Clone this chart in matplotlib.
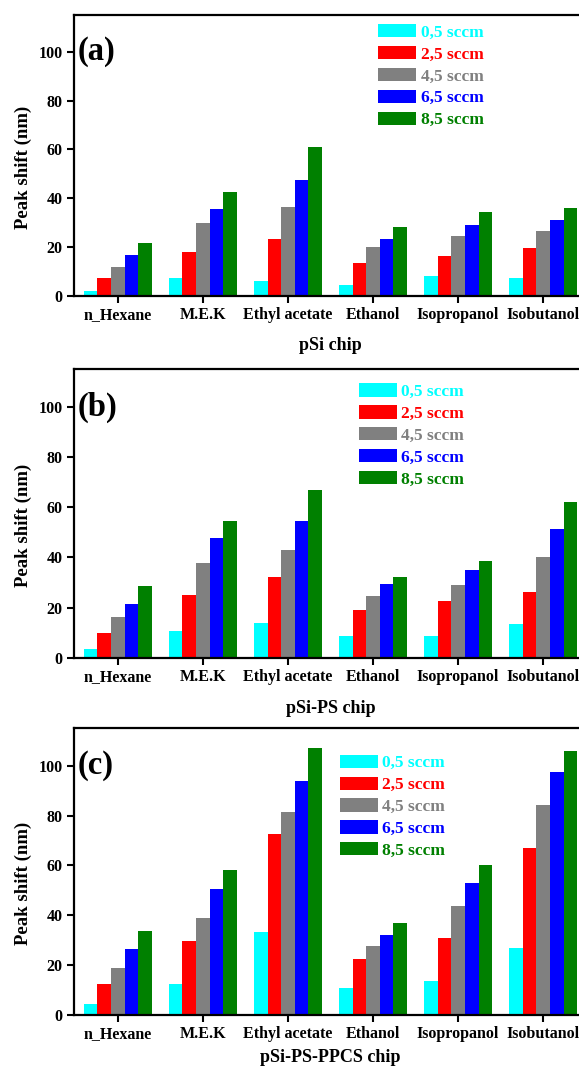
"""Peak shift of the porous silicon chips for several vapours and flow rates."""

import matplotlib

matplotlib.use("Agg")
import matplotlib.pyplot as plt
import numpy as np

solvents = ["n_Hexane", "M.E.K", "Ethyl acetate", "Ethanol", "Isopropanol", "Isobutanol"]
flows = ["0,5 sccm", "2,5 sccm", "4,5 sccm", "6,5 sccm", "8,5 sccm"]
colors = ["#00FFFF", "#FF0000", "#808080", "#0000FF", "#008000"]

# peak shift (nm), one row per flow rate, one column per solvent
shift_psi = [
    [2.0, 7.5, 6.1, 4.6, 8.3, 7.5],
    [7.5, 18.1, 23.5, 13.6, 16.4, 19.8],
    [11.9, 29.7, 36.4, 20.1, 24.7, 26.5],
    [16.7, 35.5, 47.5, 23.5, 29.1, 31.0],
    [21.8, 42.7, 60.9, 28.4, 34.5, 36.0],
]
shift_psi_ps = [
    [3.3, 10.8, 13.9, 8.8, 8.8, 13.4],
    [10.0, 25.2, 32.0, 19.0, 22.6, 26.3],
    [16.1, 37.8, 42.8, 24.8, 29.0, 40.0],
    [21.5, 47.7, 54.4, 29.2, 34.8, 51.5],
    [28.7, 54.7, 66.7, 32.3, 38.4, 61.9],
]
shift_psi_ps_ppcs = [
    [4.4, 12.6, 33.2, 11.0, 13.7, 27.0],
    [12.6, 29.5, 72.6, 22.6, 30.8, 67.1],
    [19.0, 38.8, 81.5, 27.8, 43.8, 84.3],
    [26.4, 50.5, 93.7, 32.0, 53.0, 97.5],
    [33.5, 58.1, 107.0, 37.1, 60.1, 105.9],
]

panels = [
    ("(a)", "pSi chip", shift_psi),
    ("(b)", "pSi-PS chip", shift_psi_ps),
    ("(c)", "pSi-PS-PPCS chip", shift_psi_ps_ppcs),
]

plt.rcParams["font.family"] = ["Liberation Serif", "DejaVu Serif"]
plt.rcParams["font.weight"] = "bold"
plt.rcParams["axes.labelweight"] = "bold"

W, H = 579, 1070
fig = plt.figure(figsize=(W / 100, H / 100), dpi=100)

# (left px, top px, bottom px) of each plot frame, legend anchor, xlabel pad
frames = [(73.5, 15, 296), (73.5, 369.3, 657.7), (73.5, 728.3, 1015)]
legend_anchor = [(0.593, 0.968), (0.555, 0.951), (0.518, 0.908)]
xlabel_pad = [10, 11, 5]
frame_w = 514

x = np.arange(len(solvents))
bar_w = 0.16

for i, (tag, chip, data) in enumerate(panels):
    left, top, bottom = frames[i]
    ax = fig.add_axes([left / W, 1 - bottom / H, frame_w / W, (bottom - top) / H])

    for k, (flow, col) in enumerate(zip(flows, colors)):
        ax.bar(x + (k - 2) * bar_w, data[k], width=bar_w, color=col,
               linewidth=0, label=flow)

    ax.set_xlim(-0.52, 5.52)
    ax.set_ylim(0, 115)
    ax.set_yticks([0, 20, 40, 60, 80, 100])
    ax.set_xticks(x)
    ax.set_xticklabels(solvents, fontsize=11.5)
    ax.tick_params(axis="y", labelsize=11.5)
    ax.tick_params(direction="out", length=5, width=1.5, pad=3)
    for sp in ax.spines.values():
        sp.set_linewidth(1.6)

    ax.set_ylabel("Peak shift (nm)", fontsize=13.5, fontweight="bold")
    ax.yaxis.set_label_coords(-0.081, 0.458)
    ax.set_xlabel(chip, fontsize=13, fontweight="bold", labelpad=xlabel_pad[i])

    ax.text(0.008, 100, tag, transform=ax.get_yaxis_transform(),
            fontsize=23.5, va="center", ha="left")

    leg = ax.legend(loc="upper left", bbox_to_anchor=legend_anchor[i],
                    frameon=False, borderpad=0, borderaxespad=0,
                    handlelength=2.2, handleheight=0.8, handletextpad=0.25,
                    labelspacing=0.3, prop={"size": 12.5, "weight": "bold"})
    for txt, col in zip(leg.get_texts(), colors):
        txt.set_color(col)

fig.savefig("out.png", dpi=100)
